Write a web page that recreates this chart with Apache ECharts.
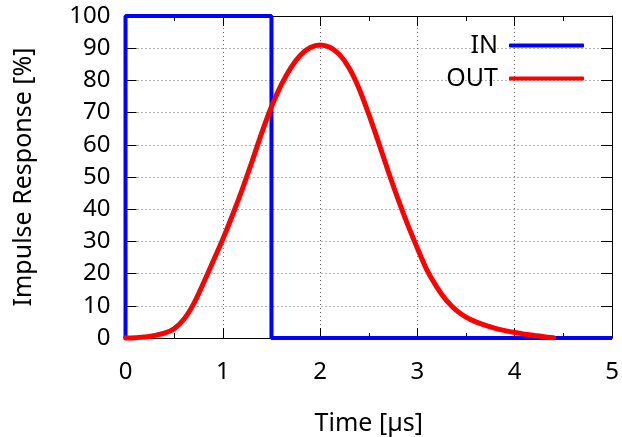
<!DOCTYPE html>
<html>
<head>
<meta charset="utf-8">
<script src="https://cdn.jsdelivr.net/npm/echarts@6/dist/echarts.min.js"></script>
<style>html,body{margin:0;padding:0;background:#fff}#c{width:622px;height:437px}</style>
</head>
<body>
<div id="c"></div>
<script>
var inX = [0, 0, 1.5, 1.5, 5];
var inY = [0, 100, 100, 0, 0];
var outX = [0, 0.1, 0.2, 0.3, 0.4, 0.5, 0.6, 0.7, 0.8, 0.9, 1.0, 1.1, 1.2, 1.3, 1.4, 1.5, 1.6, 1.7, 1.8, 1.9, 2.0,
            2.1, 2.2, 2.3, 2.4, 2.5, 2.6, 2.7, 2.8, 2.9, 3.0, 3.1, 3.2, 3.3, 3.4, 3.5, 3.6, 3.7, 3.8, 3.9, 4.0, 4.1, 4.2, 4.3, 4.4];
var outY = [0, 0.1, 0.3, 0.8, 1.5, 2.9, 5.8, 10.6, 17.0, 23.8, 30.7, 38.2, 46.2, 54.8, 63.7, 71.8, 78.6, 84.0, 87.9, 90.2, 91,
            90.3, 88, 83.8, 77.5, 69.5, 60.8, 51.8, 43.2, 35.2, 27.9, 21.0, 15.8, 11.6, 8.6, 6.5, 5.0, 3.9, 3.0, 2.3, 1.7, 1.2, 0.8, 0.4, 0.1];
var xTicks = [0, 1, 2, 3, 4, 5];
var yTicks = [0, 10, 20, 30, 40, 50, 60, 70, 80, 90, 100];

function pairs(xs, ys) { return xs.map(function (x, i) { return [x, ys[i]]; }); }

var FONT = 'Noto Sans';
var FS_TICK = 24, FS_NAME = 25, FS_LEG = 25;
var chart = echarts.init(document.getElementById('c'), null, {renderer: 'canvas'});
var axisLine = {show: true, onZero: false, lineStyle: {color: '#000', width: 1}};
var split = {show: true, lineStyle: {color: '#666', width: 1, type: [1, 3]}};
chart.setOption({
  animation: false,
  backgroundColor: '#fff',
  textStyle: {fontFamily: FONT},
  grid: {left: 125.5, right: 10, top: 16, bottom: 99, containLabel: false, outerBoundsMode: 'none'},
  legend: [
    {data: ['IN'], right: 33, top: 28, align: 'right', itemWidth: 75, itemHeight: 4, icon: 'roundRect',
     textStyle: {fontFamily: FONT, fontSize: FS_LEG, color: '#000', padding: [0, 6, 0, 0]}},
    {data: ['OUT'], right: 33, top: 61, align: 'right', itemWidth: 75, itemHeight: 4, icon: 'roundRect',
     textStyle: {fontFamily: FONT, fontSize: FS_LEG, color: '#000', padding: [0, 6, 0, 0]}}
  ],
  xAxis: [
    {type: 'value', min: xTicks[0], max: xTicks[xTicks.length - 1], interval: 1, position: 'bottom',
     name: 'Time [µs]', nameLocation: 'middle', nameGap: 73.5,
     nameTextStyle: {fontFamily: FONT, fontSize: FS_NAME, color: '#000'},
     axisLine: axisLine, axisTick: {show: true, inside: true, length: 10, lineStyle: {color: '#000'}},
     minorTick: {show: true, splitNumber: 2, length: 5, lineStyle: {color: '#000'}},
     axisLabel: {fontFamily: FONT, fontSize: FS_TICK, color: '#000', margin: 22},
     splitLine: split},
    {type: 'value', min: xTicks[0], max: xTicks[xTicks.length - 1], interval: 1, position: 'top',
     axisLine: axisLine, axisTick: {show: true, inside: true, length: 10, lineStyle: {color: '#000'}},
     minorTick: {show: true, splitNumber: 2, length: 5, lineStyle: {color: '#000'}},
     axisLabel: {show: false}, splitLine: {show: false}}
  ],
  yAxis: [
    {type: 'value', min: yTicks[0], max: yTicks[yTicks.length - 1], interval: 10, position: 'left',
     name: 'Impulse Response [%]', nameLocation: 'middle', nameGap: 89,
     nameTextStyle: {fontFamily: FONT, fontSize: FS_NAME, color: '#000'},
     axisLine: axisLine, axisTick: {show: true, inside: true, length: 11, lineStyle: {color: '#000'}},
     axisLabel: {fontFamily: FONT, fontSize: FS_TICK, color: '#000', margin: 15},
     splitLine: split},
    {type: 'value', min: yTicks[0], max: yTicks[yTicks.length - 1], interval: 10, position: 'right',
     axisLine: axisLine, axisTick: {show: true, inside: true, length: 11, lineStyle: {color: '#000'}},
     axisLabel: {show: false}, splitLine: {show: false}}
  ],
  series: [
    {name: 'IN', type: 'line', data: pairs(inX, inY), symbol: 'none', clip: false,
     color: '#0000ff', lineStyle: {color: '#0000ff', width: 4}, z: 3},
    {name: 'OUT', type: 'line', data: pairs(outX, outY), symbol: 'none', smooth: 0.3, clip: false,
     color: '#ff0000', lineStyle: {color: '#ff0000', width: 5, cap: 'round'}, z: 4}
  ]
});
</script>
</body>
</html>
